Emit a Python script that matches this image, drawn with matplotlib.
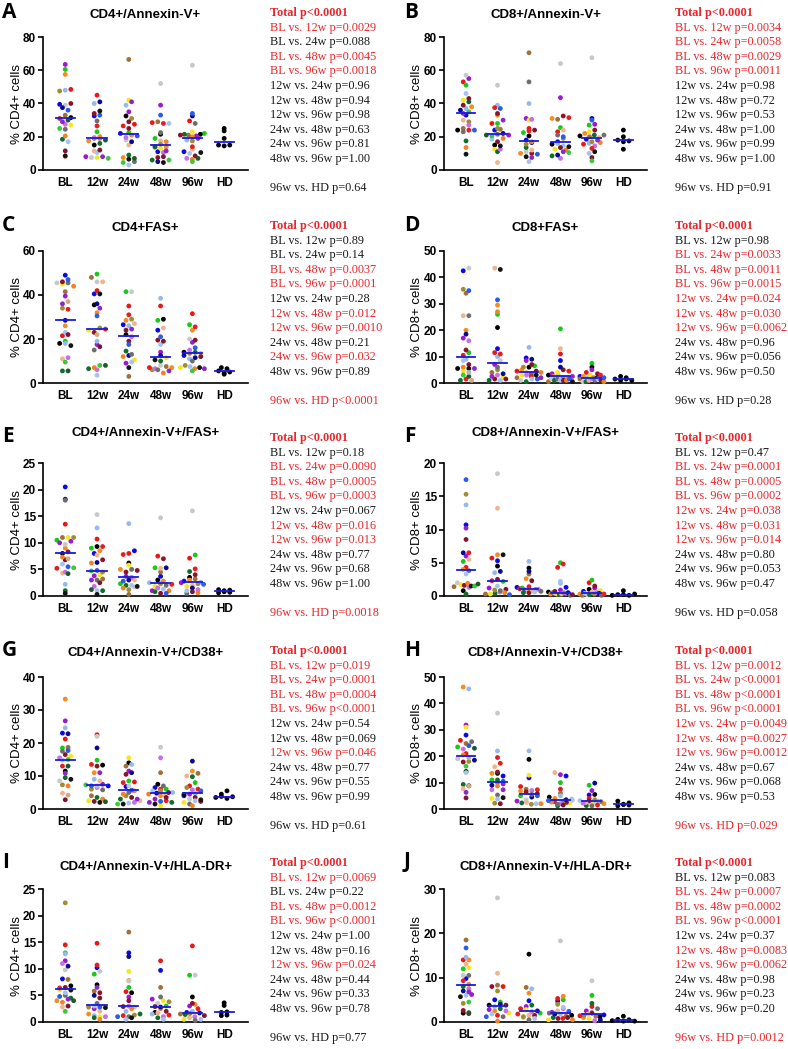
import numpy as np
import matplotlib.pyplot as plt

groups = ["BL", "12w", "24w", "48w", "96w", "HD"]
comparisons = ["BL vs. 12w", "BL vs. 24w", "BL vs. 48w", "BL vs. 96w",
               "12w vs. 24w", "12w vs. 48w", "12w vs. 96w",
               "24w vs. 48w", "24w vs. 96w", "48w vs. 96w"]

# one colour per patient (same order in every group list)
patient_colors = ['#0a0ae6', '#e61919', '#19c819', '#000000', '#9b19d2', '#f58c1e',
                  '#a0703c', '#96b9eb', '#c8c8c8', '#f5e61e', '#0f6e2d', '#8c1428',
                  '#f0b48c', '#a08c32', '#c86ee6', '#0a0a8c', '#6e6e6e', '#e61e1e',
                  '#a5c3f0', '#7d1432', '#f08228', '#2d5ae6', '#141414', '#8c28c8',
                  '#3cc83c', '#1e5a28', '#d2aa82', '#b4b4b4']

# ---- A: CD4+/Annexin-V+
a_values = [
    [39.5, 48.5, 60.5, 31.5, 63.5, 57.5, 33, 48, 39, 27, 18.5, 40, 8, 47.5, 27.5, 37.5, 24.5, 31, 17, 11.5, 20.5, 36, 8.5, 29, 25, 30],
    [32.5, 45, 23, 15, 8, 17.5, 19, 40, 7.5, 7.5, 16, 34, 11.5, 19, 19.5, 41, 29.5, 26.5, 10.5, 12, 20, 33, 35.5, 8, 7, 18],
    [22, 27.5, 22.5, 32.5, 35, 7.5, 66.5, 39, 18, 42, 9, 25, 15, 31, 19.5, 17, 5, 26.5, 3, 29, 21, 20.5, 6.5, 41, 4.5, 7],
    [11, 28.5, 19, 21.5, 39, 14, 29, 13.5, 52, 13, 6, 7.5, 17.5, 15.5, 10.5, 5, 22.5, 28, 28, 8, 17, 33, 4.5, 11.5, 6, 14],
    [11, 29.5, 22, 21.5, 20.5, 20, 21, 18, 63, 23, 21.5, 21, 12.5, 17.5, 7, 32.5, 28, 14, 10, 8.5, 6.5, 34, 10.5, 19, 5, 7],
    [15, 19, 23.5, 14.5, 25, 15],
]
a_p = ["p=0.0029", "p=0.088", "p=0.0045", "p=0.0018", "p=0.96", "p=0.94", "p=0.98", "p=0.63", "p=0.81", "p=1.00"]
a_hd = "p=0.64"

# ---- B: CD8+/Annexin-V+
b_values = [
    [33, 53, 51, 24, 55, 38, 25, 37, 57, 42, 17.5, 39, 30, 29, 27, 36, 23, 24, 46, 43, 13.5, 24, 9.5, 34, 35, 41],
    [24, 28, 28, 15, 21, 33, 24.5, 39, 51, 12.5, 11, 34, 4.5, 25, 12.5, 22, 21.5, 37.5, 18.5, 17, 19, 37, 14.5, 30, 20.5, 21],
    [18, 25, 22.5, 20.5, 31, 10, 70.5, 40, 11, 30, 13.5, 10, 12, 15.5, 30.5, 16.5, 53, 23.5, 5, 24, 17, 9.5, 8, 7.5],
    [17, 23, 25.5, 15.5, 43.5, 31, 30.5, 16, 64, 12.5, 8.5, 32.5, 24, 19, 7, 9, 21, 31.5, 14.5, 13.5, 12, 20, 14, 11, 10.5],
    [18.5, 15.5, 27, 20.5, 27.5, 22, 20, 16, 67.5, 23, 21, 24, 19.5, 17, 14.5, 31, 21, 13, 10, 7.5, 16.5, 30, 11, 18, 5.5],
    [18, 24, 20, 12.5, 17, 17.5],
]
b_p = ["p=0.0034", "p=0.0058", "p=0.0029", "p=0.0011", "p=0.98", "p=0.72", "p=0.53", "p=1.00", "p=0.99", "p=1.00"]
b_hd = "p=0.91"

# ---- C: CD4+FAS+
c_values = [
    [49, 21.5, 19, 18, 39.5, 26, 41.5, 18, 45.5, 45, 5.5, 46, 11, 34, 11.5, 28.5, 45.5, 33.5, 23, 22, 44, 47, 17, 36, 9.5, 5.5, 37],
    [40.5, 42, 49.5, 35.5, 17.5, 32, 48, 19, 46, 24, 6.5, 23, 46, 25, 6, 36, 15, 24.5, 3.5, 16.5, 7, 30.5, 40.5, 34, 8, 8, 22],
    [26.5, 35, 41.5, 22, 9, 28.5, 3, 26, 41.5, 10.5, 14.5, 19, 27, 29, 21, 12.5, 13, 31, 9.5, 24, 12, 17.5, 7, 24.5],
    [24, 35, 28.5, 29, 14, 7, 7.5, 38.5, 8, 11.5, 10, 19.5, 25, 6, 6.5, 12.5, 6, 7, 17.5, 19, 4.5, 21, 10.5, 5.5],
    [12.5, 31.5, 26.5, 14, 18.5, 24, 13.5, 11, 20, 7, 14, 19.5, 13.5, 8, 15, 11.5, 10, 25.5, 7.5, 12, 6.5, 16, 7, 6.5, 5.5],
    [5.5, 7, 4, 6.5, 4.5, 5],
]
c_p = ["p=0.89", "p=0.14", "p=0.0037", "p=0.0001", "p=0.28", "p=0.012", "p=0.0010", "p=0.21", "p=0.032", "p=0.89"]
c_hd = "p<0.0001"

# ---- D: CD8+FAS+
d_values = [
    [42.5, 10.5, 11.5, 5.5, 17, 20, 34, 9, 43.5, 4.5, 1, 12.5, 25.5, 35.5, 16, 18.5, 25.5, 1.5, 8.5, 7, 6, 35, 5.5, 5.5, 3, 2.5, 1, 4],
    [13, 11.5, 26, 21, 7, 29.5, 4, 10, 8.5, 2, 1, 1.5, 43.5, 5, 3, 3.5, 6, 11, 1, 1.5, 27, 31.5, 43, 2.5],
    [9.5, 4.5, 6.5, 6, 8.5, 5, 2, 13.5, 1, 3, 0.5, 7, 4, 6, 3, 9, 3.5, 2.5, 1.5, 4.5, 4, 1.5, 3, 2],
    [8.5, 11, 20.5, 3, 3.5, 2.5, 0.5, 3, 1.5, 4, 1, 5, 13, 2, 2, 6, 1.5, 4.5, 1, 1, 1, 1.5, 0.5, 2.5],
    [2.5, 4, 7.5, 6, 5, 2.5, 1.5, 2, 0.5, 3, 0.5, 3.5, 1, 2, 1.5, 2, 1, 3, 1.5, 1, 0.5, 2],
    [1.5, 2.5, 1, 2, 1.5, 1],
]
d_p = ["p=0.98", "p=0.0033", "p=0.0011", "p=0.0015", "p=0.024", "p=0.030", "p=0.0062", "p=0.96", "p=0.056", "p=0.50"]
d_hd = "p=0.28"

# ---- E: CD4+/Annexin-V+/FAS+
e_values = [
    [20.5, 13.5, 10.5, 8, 10.3, 9, 11, 2.2, 9.7, 11, 1, 8.3, 4.3, 11, 4.5, 18.2, 18, 5.2, 6, 6.8, 7.3, 5.5, 0.5, 10, 5.3, 4.2, 7],
    [8, 10.7, 9, 9.3, 3.8, 8.5, 3.2, 12.8, 15.3, 4, 1, 6.8, 7.7, 4.5, 1.8, 6.3, 3, 9.3, 1, 2.5, 6.2, 4.8, 0.3, 3, 4.7, 1.2],
    [8.5, 8, 2.3, 6.2, 3.7, 5, 0.3, 13.6, 1.7, 5.8, 2, 4.5, 3, 1.2, 3.5, 3, 5, 7.8, 2, 4.8, 1.5, 2.8, 1.8],
    [3.7, 7.5, 5.3, 3, 1, 2.8, 4.5, 2.5, 14.7, 1.8, 0.8, 7, 5.2, 2.3, 1.5, 5.3, 2, 2.2, 1.3, 0.5, 1, 0.5],
    [2.8, 7.1, 7.7, 3.5, 2.5, 3, 3.2, 2.6, 16, 1.8, 4.6, 4, 2, 2.3, 1.2, 1.5, 0.5, 5.1, 1, 0.8, 0.6, 2.2],
    [0.6, 1.1, 0.8, 1.0, 1.2, 0.7],
]
e_p = ["p=0.18", "p=0.0090", "p=0.0005", "p=0.0003", "p=0.067", "p=0.016", "p=0.013", "p=0.77", "p=0.68", "p=1.00"]
e_hd = "p=0.0018"

# ---- F: CD8+/Annexin-V+/FAS+
f_values = [
    [10.7, 4.3, 5.2, 0.8, 6, 4, 1.4, 13.7, 2, 1.7, 0.3, 1.6, 5.5, 15.3, 1.3, 6.5, 3.8, 6.5, 3.3, 8.5, 1.9, 17.5, 1.5, 10.2, 1.5, 1.8],
    [5.3, 5.7, 2.2, 4.5, 1.2, 6.2, 0.3, 3.5, 18.4, 0.3, 0.4, 2.5, 13.2, 0.9, 0.6, 3.7, 0.8, 2.3, 1.5, 1, 0.5, 0.2, 6.2],
    [1.3, 1.1, 1.2, 4.2, 0.9, 2.6, 3.3, 5.2, 0.9, 0.7, 0.5, 0.5, 0.8, 1, 1, 3.7, 0.7, 1.4, 0.6, 2.3],
    [1.3, 4.3, 5, 0.6, 0.9, 0.3, 0.5, 1.9, 0.4, 0.3, 0.2, 0.7, 0.3, 0.5, 0.4, 0.5, 0.1, 4.8, 2.2, 0.2],
    [0.7, 2, 2.4, 1, 1.2, 0.3, 0.1, 0.4, 0.2, 0.8, 0.2, 1.5, 0.6, 0.3, 0.5, 0.4, 0.1, 0.3],
    [0.1, 0.2, 0.2, 0.1, 0.8, 0.3],
]
f_p = ["p=0.47", "p=0.0001", "p=0.0005", "p=0.0002", "p=0.038", "p=0.031", "p=0.014", "p=0.80", "p=0.053", "p=0.47"]
f_hd = "p=0.058"

# ---- G: CD4+/Annexin-V+/CD38+
g_values = [
    [23, 21.2, 18.5, 11.5, 26.7, 33.3, 18.7, 24.6, 8.5, 16, 9.5, 16.5, 4.8, 7.3, 15.5, 22.8, 17.5, 13, 14.8, 2.8, 7, 17.7, 9, 10.8, 15, 13, 4.2],
    [7, 22.5, 14.8, 13.3, 7.5, 11, 4, 9, 22, 2.5, 3.5, 13, 8.5, 6, 6.5, 18.5, 5.8, 13.5, 7, 2.3, 3, 7, 2, 11, 7.3, 2.2],
    [6.8, 8.2, 8.5, 14, 11.5, 5.5, 13, 13.5, 7, 15.5, 3, 10.5, 2.5, 4, 2, 11, 5, 8, 1.8, 3.5, 4.5, 5.7, 1.5, 3, 1.5],
    [6.5, 6, 6, 7.5, 3, 4, 11, 5, 18.7, 1, 2, 5, 4.2, 5.5, 15.5, 4.8, 7, 2.5, 5.5, 3.5, 4.5, 2.3, 1.5, 2],
    [4, 7, 8, 4.4, 4.5, 11.5, 10.8, 4.7, 3, 2, 9.8, 3.5, 10, 6.5, 5.8, 14.5, 1.5, 6, 2.5, 2.3, 1, 5.5, 2.8],
    [3.5, 4.5, 3.8, 3.2, 5.5, 3.7],
]
g_p = ["p=0.019", "p=0.0001", "p=0.0004", "p<0.0001", "p=0.54", "p=0.069", "p=0.046", "p=0.77", "p=0.55", "p=0.99"]
g_hd = "p=0.61"

# ---- H: CD8+/Annexin-V+/CD38+
h_values = [
    [28, 26, 23.5, 14.2, 31.8, 46.2, 24.8, 45.5, 19, 31, 9.3, 17.8, 7.7, 18, 22.7, 18.5, 25.5, 21, 13.8, 4.2, 20.5, 24, 8.8, 6.3, 16.2, 23, 8.7, 19.5],
    [12.5, 19.5, 11, 13.5, 9.5, 13.5, 10, 22, 36.3, 4, 11, 14, 16, 2.2, 7.3, 9, 5.3, 17.3, 3.8, 2, 8.7, 10.5, 4.3, 7.3],
    [11.8, 8.5, 5, 18.8, 3, 6.8, 7.5, 22, 3.5, 12.8, 2.3, 6.5, 2.5, 1.8, 7, 4.5, 5.5, 7.3, 2, 5.8, 2, 5],
    [12.5, 7.5, 10, 4.5, 13, 4, 6, 5, 3.3, 2.3, 1.2, 2.5, 13.8, 3, 2, 3.5, 1.8, 2.8, 3.8, 1.5, 2.6, 3.2],
    [5.3, 4, 9, 5.5, 7, 2, 2.8, 3, 2.5, 1.8, 1.3, 3, 2.5, 3.5, 2.2, 9.8, 1.2, 1.5, 3.2],
    [1.2, 2.3, 1.8, 1.7, 1.5, 3],
]
h_p = ["p=0.0012", "p<0.0001", "p<0.0001", "p<0.0001", "p=0.0049", "p=0.0027", "p=0.0012", "p=0.67", "p=0.068", "p=0.53"]
h_hd = "p=0.029"

# ---- I: CD4+/Annexin-V+/HLA-DR+
i_values = [
    [8.1, 14.5, 13, 6.8, 11.5, 4, 8, 12.8, 9.8, 6, 4.5, 6.5, 2.8, 22.4, 11, 10.5, 5, 6.4, 5.5, 3, 3.7, 4.8, 6, 4.3, 2, 4],
    [10.2, 14.8, 9, 7, 2.5, 1.5, 5.8, 1.2, 9.5, 1, 0.8, 5.5, 2, 2.8, 1, 5, 3.5, 10.7, 3, 4.5, 0.5, 2.8, 2.7, 6.5],
    [13, 5.7, 6.5, 5.5, 4.7, 7.8, 16.9, 2, 7.7, 9.5, 1.5, 4, 2.8, 1.3, 3, 12.3, 1, 1.2, 0.5, 2.9, 2.5, 1, 0.8],
    [9.7, 11.5, 3, 1.8, 4.3, 2.5, 6.5, 1.5, 3.5, 4, 0.8, 2, 1.7, 3.8, 1, 2.8, 4.7, 1.3, 0.5, 2.9],
    [1.8, 14.3, 8.8, 4.7, 3, 3.3, 1.5, 2, 8.8, 0.5, 1.4, 3.5, 0.8, 1.6, 1, 1.7, 0.3, 2.5, 0.5, 1.2],
    [1.2, 3.1, 1.3, 3.6, 1.8, 1.9],
]
i_p = ["p=0.0069", "p=0.22", "p=0.0012", "p<0.0001", "p=1.00", "p=0.16", "p=0.024", "p=0.44", "p=0.33", "p=0.78"]
i_hd = "p=0.77"

# ---- J: CD8+/Annexin-V+/HLA-DR+
j_values = [
    [9.8, 14, 12, 2, 6.2, 14, 18.5, 14.6, 10.5, 12.2, 8, 2.6, 13, 4.2, 7.5, 7, 10.5, 9.3, 6, 1.9, 8.5, 16.7, 5.7, 6.8, 4.5, 2.1],
    [5, 8, 4.5, 3.8, 2.8, 2.5, 8.3, 3.5, 28, 2, 3, 8, 11, 7, 2.5, 4, 1.2, 1.5, 1.8, 3.8, 0.2, 1.2],
    [4.8, 3, 2, 15.3, 3.5, 6.5, 7.8, 7.5, 1, 2.8, 3.8, 1.5, 1.5, 1.2, 2.3, 2.5, 0.5, 1.8, 0.8],
    [4.7, 5.3, 5, 1.5, 2.2, 5.8, 1.3, 1.8, 18.3, 0.5, 1, 0.8, 2.5, 4, 3, 1.8, 2, 0.8, 3.3, 1, 0.5, 2.4],
    [1.6, 3.5, 6, 1.2, 2.5, 1, 1.3, 2.2, 9.3, 0.8, 4.2, 2, 1.8, 1.5, 0.3, 0.5, 3, 1.4],
    [0.3, 0.6, 1.3, 0.2, 0.5, 0.2],
]
j_p = ["p=0.083", "p=0.0007", "p=0.0002", "p<0.0001", "p=0.37", "p=0.0083", "p=0.0062", "p=0.98", "p=0.23", "p=0.20"]
j_hd = "p=0.0012"

panels = [
    ("A", "CD4+/Annexin-V+", "% CD4+ cells", 80, 20, a_values, a_p, a_hd),
    ("B", "CD8+/Annexin-V+", "% CD8+ cells", 80, 20, b_values, b_p, b_hd),
    ("C", "CD4+FAS+", "% CD4+ cells", 60, 20, c_values, c_p, c_hd),
    ("D", "CD8+FAS+", "% CD8+ cells", 50, 10, d_values, d_p, d_hd),
    ("E", "CD4+/Annexin-V+/FAS+", "% CD4+ cells", 25, 5, e_values, e_p, e_hd),
    ("F", "CD8+/Annexin-V+/FAS+", "% CD8+ cells", 20, 5, f_values, f_p, f_hd),
    ("G", "CD4+/Annexin-V+/CD38+", "% CD4+ cells", 40, 10, g_values, g_p, g_hd),
    ("H", "CD8+/Annexin-V+/CD38+", "% CD8+ cells", 50, 10, h_values, h_p, h_hd),
    ("I", "CD4+/Annexin-V+/HLA-DR+", "% CD4+ cells", 25, 5, i_values, i_p, i_hd),
    ("J", "CD8+/Annexin-V+/HLA-DR+", "% CD8+ cells", 30, 10, j_values, j_p, j_hd),
]

W, H = 788, 1049
RED = '#e8262b'
BLUE = '#1a1ae0'

# layout in pixels
col_x = [(43, 248), (444, 647)]
text_x = [270, 675]
letter_x = [2, 404]
ylabel_x = [-0.10, -0.105]
rows = [  # axes top, axes bottom, title y, text first line y
    (37, 170, 15, 13),
    (251, 383, 228, 226),
    (463, 596, 433, 438),
    (677, 809, 653, 651),
    (889, 1022, 867, 863),
]
line_h = 14.6
TXT = 8.8


def fx(px):
    return px / W


def fy(py):
    return 1 - py / H


def is_sig(p):
    return "<" in p or float(p[2:]) < 0.05


def swarm(vals, px_per_unit, cat_px, bin_px=4.6, gap_px=5.6, max_px=12.0):
    # GraphPad-like layout: points in the same height band sit side by side
    vals = np.asarray(vals, float)
    bins = np.floor(vals * px_per_unit / bin_px).astype(int)
    offs = np.zeros(len(vals))
    for b in np.unique(bins):
        idx = np.where(bins == b)[0]
        n = len(idx)
        gap = gap_px if (n - 1) * gap_px <= 2 * max_px else 2 * max_px / (n - 1)
        pos = (np.arange(n) - (n - 1) / 2) * gap
        if n % 2 == 1 and n > 1 and b % 2 == 1:
            pos = pos[::-1]
        offs[idx] = pos / cat_px
    return offs


plt.rcParams['font.family'] = 'Liberation Sans'
fig = plt.figure(figsize=(W / 100, H / 100), dpi=100)
xlim = (-0.7, 5.75)

for n, (letter, title, ylabel, ymax, ystep, values, pvals, phd) in enumerate(panels):
    r, c = divmod(n, 2)
    x0, x1 = col_x[c]
    top, bot, ty, tline = rows[r]
    ax = fig.add_axes([fx(x0), fy(bot), (x1 - x0) / W, (bot - top) / H])
    cat_px = (x1 - x0) / (xlim[1] - xlim[0])
    px_per_unit = (bot - top) / ymax
    for g, vals in enumerate(values):
        offs = swarm(vals, px_per_unit, cat_px)
        if g == 5:
            cols = ['#000000'] * len(vals)
        else:
            cols = [patient_colors[k % len(patient_colors)] for k in range(len(vals))]
        ax.scatter(g + offs, vals, s=12, c=cols, linewidths=0, zorder=3, clip_on=False)
        med = np.median(vals)
        ax.plot([g - 0.3, g + 0.3], [med, med], color=BLUE, lw=1.3, zorder=4)
    ax.set_xlim(*xlim)
    ax.set_ylim(0, ymax)
    ax.set_yticks(np.arange(0, ymax + 0.1, ystep))
    ax.set_xticks(range(6))
    ax.set_xticklabels(groups, fontweight='bold', fontsize=8.5)
    for lab in ax.get_yticklabels():
        lab.set_fontweight('bold')
        lab.set_fontsize(8.5)
    for side in ['top', 'right']:
        ax.spines[side].set_visible(False)
    for side in ['left', 'bottom']:
        ax.spines[side].set_linewidth(1.2)
    ax.tick_params(axis='both', direction='out', length=3.5, width=1.2, pad=1.5)
    ax.tick_params(axis='x', length=0, pad=5)
    ax.set_ylabel(ylabel, fontsize=9.5)
    ax.yaxis.set_label_coords(ylabel_x[c], 0.5)

    fig.text(fx((x0 + x1) / 2), fy(ty), title, ha='center', va='center',
             fontsize=9.5, fontweight='bold')
    fig.text(fx(letter_x[c]), fy(tline - 1), letter, ha='left', va='center',
             fontsize=15, fontweight='bold', family='Open Sans')

    tx = fx(text_x[c])
    fig.text(tx, fy(tline), "Total p<0.0001", ha='left', va='center', fontsize=TXT,
             fontweight='bold', color=RED, family='Liberation Serif')
    for k, (comp, p) in enumerate(zip(comparisons, pvals)):
        fig.text(tx, fy(tline + (k + 1) * line_h), f"{comp} {p}", ha='left', va='center',
                 fontsize=TXT, color=RED if is_sig(p) else '#1a1a1a', family='Liberation Serif')
    fig.text(tx, fy(tline + 12 * line_h), f"96w vs. HD {phd}", ha='left', va='center',
             fontsize=TXT, color=RED if is_sig(phd) else '#1a1a1a', family='Liberation Serif')

fig.savefig('out.png', dpi=100)
